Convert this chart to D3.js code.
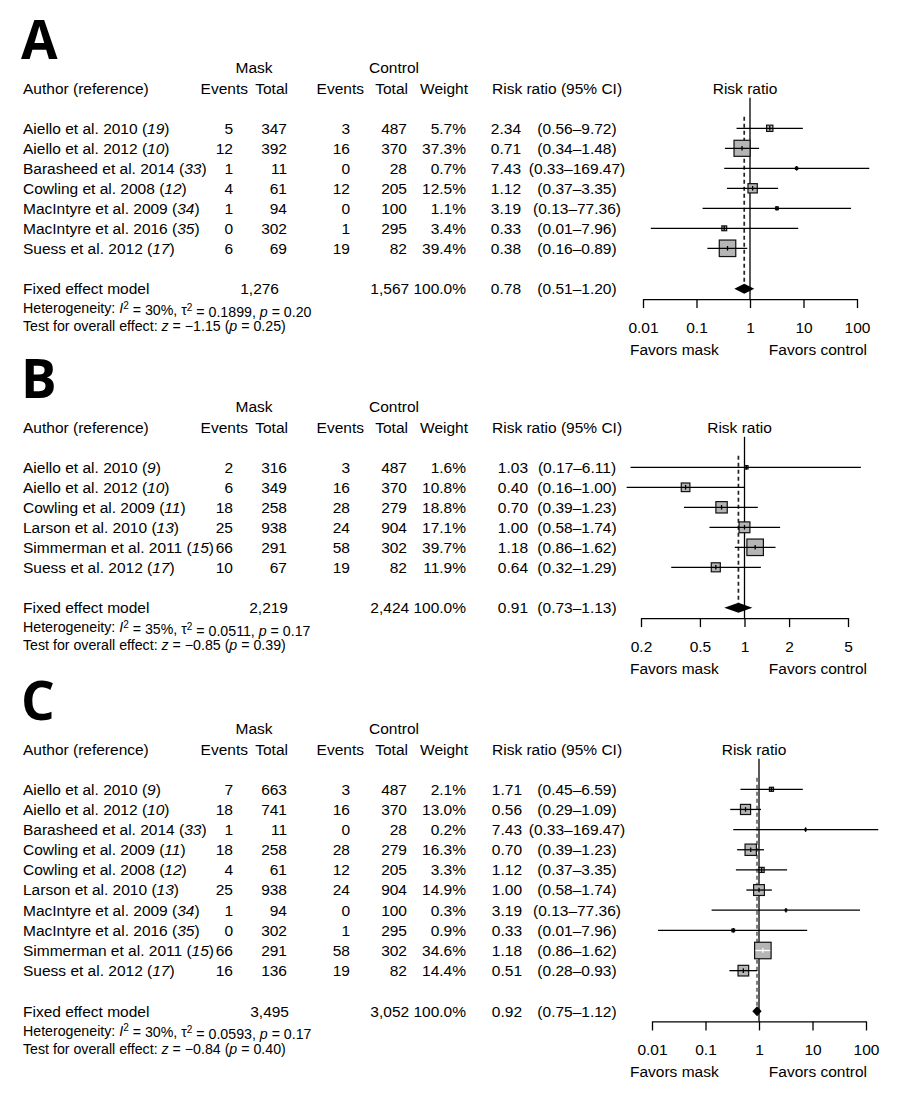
<!DOCTYPE html>
<html>
<head>
<meta charset="utf-8">
<script src="https://cdn.jsdelivr.net/npm/d3@7"></script>
<style>
  body { margin: 0; background: #fff; }
  svg text { font-family: "Liberation Sans", Arial, sans-serif; fill: #000; }
</style>
</head>
<body>
<div id="chart"></div>
<script>
// ---- Panel A data ----
const authorsA = ["Aiello et al. 2010", "Aiello et al. 2012", "Barasheed et al. 2014", "Cowling et al. 2008",
                  "MacIntyre et al. 2009", "MacIntyre et al. 2016", "Suess et al. 2012"];
const refsA = ["19", "10", "33", "12", "34", "35", "17"];
const maskEventsA = [5, 12, 1, 4, 1, 0, 6];
const maskTotalA = [347, 392, 11, 61, 94, 302, 69];
const ctrlEventsA = [3, 16, 0, 12, 0, 1, 19];
const ctrlTotalA = [487, 370, 28, 205, 100, 295, 82];
const weightA = [5.7, 37.3, 0.7, 12.5, 1.1, 3.4, 39.4];
const rrA = [2.34, 0.71, 7.43, 1.12, 3.19, 0.33, 0.38];
const loA = [0.56, 0.34, 0.33, 0.37, 0.13, 0.014, 0.16];
const hiA = [9.72, 1.48, 169.47, 3.35, 77.36, 7.96, 0.89];
const ticksA = [0.01, 0.1, 1, 10, 100];

// ---- Panel B data ----
const authorsB = ["Aiello et al. 2010", "Aiello et al. 2012", "Cowling et al. 2009", "Larson et al. 2010",
                  "Simmerman et al. 2011", "Suess et al. 2012"];
const refsB = ["9", "10", "11", "13", "15", "17"];
const maskEventsB = [2, 6, 18, 25, 66, 10];
const maskTotalB = [316, 349, 258, 938, 291, 67];
const ctrlEventsB = [3, 16, 28, 24, 58, 19];
const ctrlTotalB = [487, 370, 279, 904, 302, 82];
const weightB = [1.6, 10.8, 18.8, 17.1, 39.7, 11.9];
const rrB = [1.03, 0.40, 0.70, 1.00, 1.18, 0.64];
const loB = [0.17, 0.16, 0.39, 0.58, 0.86, 0.32];
const hiB = [6.11, 1.00, 1.23, 1.74, 1.62, 1.29];
const ticksB = [0.2, 0.5, 1, 2, 5];

// ---- Panel C data ----
const authorsC = ["Aiello et al. 2010", "Aiello et al. 2012", "Barasheed et al. 2014", "Cowling et al. 2009",
                  "Cowling et al. 2008", "Larson et al. 2010", "MacIntyre et al. 2009", "MacIntyre et al. 2016",
                  "Simmerman et al. 2011", "Suess et al. 2012"];
const refsC = ["9", "10", "33", "11", "12", "13", "34", "35", "15", "17"];
const maskEventsC = [7, 18, 1, 18, 4, 25, 1, 0, 66, 16];
const maskTotalC = [663, 741, 11, 258, 61, 938, 94, 302, 291, 136];
const ctrlEventsC = [3, 16, 0, 28, 12, 24, 0, 1, 58, 19];
const ctrlTotalC = [487, 370, 28, 279, 205, 904, 100, 295, 302, 82];
const weightC = [2.1, 13.0, 0.2, 16.3, 3.3, 14.9, 0.3, 0.9, 34.6, 14.4];
const rrC = [1.71, 0.56, 7.43, 0.70, 1.12, 1.00, 3.19, 0.33, 1.18, 0.51];
const loC = [0.45, 0.29, 0.33, 0.39, 0.37, 0.58, 0.13, 0.013, 0.86, 0.28];
const hiC = [6.59, 1.09, 169.47, 1.23, 3.35, 1.74, 77.36, 7.96, 1.62, 0.93];
const ticksC = [0.01, 0.1, 1, 10, 100];

// ---- Pooled (fixed effect) results, one entry per panel A, B, C ----
const panelLetters = ["A", "B", "C"];
const pooledMaskTotal = [1276, 2219, 3495];
const pooledCtrlTotal = [1567, 2424, 3052];
const pooledRR = [0.78, 0.91, 0.92];
const pooledLo = [0.51, 0.73, 0.75];
const pooledHi = [1.20, 1.13, 1.12];
const hetI2 = ["30%", "35%", "30%"];
const hetTau2 = ["0.1899", "0.0511", "0.0593"];
const hetP = ["0.20", "0.17", "0.17"];
const testZ = ["\u22121.15", "\u22120.85", "\u22120.84"];
const testP = ["0.25", "0.39", "0.40"];

// Layout (pixels)
const width = 900, height = 1096;
const FS = 15.5, FS_SMALL = 14.2;
const col = { author: 23, mEv: 233, mN: 287, cEv: 350, cN: 407, w: 466,
              hmEv: 248, hmN: 288, hcEv: 364, hcN: 408, hw: 468, mask: 254, ctrl: 394,
              rr: 492, ci: 577 };

const panels = [
  { authors: authorsA, refs: refsA, mEv: maskEventsA, mN: maskTotalA, cEv: ctrlEventsA, cN: ctrlTotalA,
    w: weightA, rr: rrA, lo: loA, hi: hiA, ticks: ticksA, domain: [0.01, 100], range: [643, 857],
    top: 128.3, step: 20, estRight: 521, pooledMaskX: 279, dashColor: "#222", dashWidth: 1.7 },
  { authors: authorsB, refs: refsB, mEv: maskEventsB, mN: maskTotalB, cEv: ctrlEventsB, cN: ctrlTotalB,
    w: weightB, rr: rrB, lo: loB, hi: hiB, ticks: ticksB, domain: [0.2, 5], range: [641, 848],
    top: 467.3, step: 20, estRight: 528, pooledMaskX: 288, dashColor: "#222", dashWidth: 1.7 },
  { authors: authorsC, refs: refsC, mEv: maskEventsC, mN: maskTotalC, cEv: ctrlEventsC, cN: ctrlTotalC,
    w: weightC, rr: rrC, lo: loC, hi: hiC, ticks: ticksC, domain: [0.01, 100], range: [652, 866],
    top: 789.3, step: 20.15, estRight: 522, pooledMaskX: 289, dashColor: "#808080", dashWidth: 2.2 }
];

const svg = d3.select("#chart").append("svg")
  .attr("width", width)
  .attr("height", height)
  .style("display", "block");

svg.append("rect").attr("width", width).attr("height", height).attr("fill", "#fff");

const fmt2 = d3.format(".2f");
const fmtInt = d3.format(",");

function txt(g, x, y, s, anchor, size) {
  return g.append("text")
    .attr("x", x).attr("y", y)
    .attr("dy", "0.35em")
    .attr("text-anchor", anchor || "start")
    .style("font-size", (size || FS) + "px")
    .text(s);
}

panels.forEach((p, pi) => {
  const g = svg.append("g");
  const rowY = i => p.top + i * p.step;
  const n = p.authors.length;
  const pooledY = rowY(n - 1) + 40.5;
  const axisY = pooledY + 10.3;
  const hdr2 = p.top - 40;
  const hdr1 = p.top - 60.5;

  // Panel letter
  g.append("text")
    .attr("x", 21).attr("y", p.top - 69.5)
    .style("font-family", "'Open Sans', 'DejaVu Sans', sans-serif")
    .style("font-weight", "bold")
    .style("font-size", "53px")
    .text(panelLetters[pi]);

  // Column headers
  txt(g, col.mask, hdr1, "Mask", "middle");
  txt(g, col.ctrl, hdr1, "Control", "middle");
  txt(g, col.author, hdr2, "Author (reference)");
  txt(g, col.hmEv, hdr2, "Events", "end");
  txt(g, col.hmN, hdr2, "Total", "end");
  txt(g, col.hcEv, hdr2, "Events", "end");
  txt(g, col.hcN, hdr2, "Total", "end");
  txt(g, col.hw, hdr2, "Weight", "end");
  txt(g, col.rr, hdr2, "Risk ratio (95% CI)");

  const x = d3.scaleLog().domain(p.domain).range(p.range);
  const mid = (p.range[0] + p.range[1]) / 2;
  txt(g, mid - 5, hdr2, "Risk ratio", "middle");

  // Study rows (text)
  p.authors.forEach((a, i) => {
    const y = rowY(i);
    const t = txt(g, col.author, y, null);
    t.append("tspan").text(a + " (");
    t.append("tspan").style("font-style", "italic").text(p.refs[i]);
    t.append("tspan").text(")");
    txt(g, col.mEv, y, p.mEv[i], "end");
    txt(g, col.mN, y, p.mN[i], "end");
    txt(g, col.cEv, y, p.cEv[i], "end");
    txt(g, col.cN, y, p.cN[i], "end");
    txt(g, col.w, y, p.w[i].toFixed(1) + "%", "end");
    txt(g, p.estRight, y, fmt2(p.rr[i]), "end");
    txt(g, col.ci, y, "(" + fmt2(p.lo[i]) + "\u2013" + fmt2(p.hi[i]) + ")", "middle");
  });

  // Pooled row text
  txt(g, col.author, pooledY, "Fixed effect model");
  txt(g, p.pooledMaskX, pooledY, fmtInt(pooledMaskTotal[pi]), "end");
  txt(g, col.w, pooledY, fmtInt(pooledCtrlTotal[pi]) + " 100.0%", "end");
  txt(g, p.estRight, pooledY, fmt2(pooledRR[pi]), "end");
  txt(g, col.ci, pooledY, "(" + fmt2(pooledLo[pi]) + "\u2013" + fmt2(pooledHi[pi]) + ")", "middle");

  // Heterogeneity and overall test
  const het = txt(g, col.author, pooledY + 19.5, null, "start", FS_SMALL);
  het.append("tspan").text("Heterogeneity: ");
  het.append("tspan").style("font-style", "italic").text("I");
  het.append("tspan").attr("dy", "-0.42em").style("font-size", "10px").text("2");
  het.append("tspan").attr("dy", "0.42em").text(" = " + hetI2[pi] + ", \u03c4");
  het.append("tspan").attr("dy", "-0.42em").style("font-size", "10px").text("2");
  het.append("tspan").attr("dy", "0.42em").text(" = " + hetTau2[pi] + ", ");
  het.append("tspan").style("font-style", "italic").text("p");
  het.append("tspan").text(" = " + hetP[pi]);

  const tst = txt(g, col.author, pooledY + 37.5, null, "start", FS_SMALL);
  tst.append("tspan").text("Test for overall effect: ");
  tst.append("tspan").style("font-style", "italic").text("z");
  tst.append("tspan").text(" = " + testZ[pi] + " (");
  tst.append("tspan").style("font-style", "italic").text("p");
  tst.append("tspan").text(" = " + testP[pi] + ")");

  // Reference line at 1 and pooled estimate line
  g.append("line")
    .attr("x1", x(1)).attr("x2", x(1))
    .attr("y1", p.top - 30.5).attr("y2", axisY)
    .attr("stroke", "#000").attr("stroke-width", 1.3);
  g.append("line")
    .attr("x1", x(pooledRR[pi])).attr("x2", x(pooledRR[pi]))
    .attr("y1", p.top - 11.5).attr("y2", pooledY)
    .attr("stroke", p.dashColor).attr("stroke-width", p.dashWidth)
    .attr("stroke-dasharray", "4,3");

  // Study marks
  const maxW = d3.max(p.w);
  p.rr.forEach((rr, i) => {
    const y = rowY(i);
    const side = 16.5 * Math.sqrt(p.w[i] / maxW);
    const cx = x(rr);
    const inside = x(p.lo[i]) >= cx - side / 2 && x(p.hi[i]) <= cx + side / 2;
    g.append("rect")
      .attr("x", cx - side / 2).attr("y", y - side / 2)
      .attr("width", side).attr("height", side)
      .attr("fill", "#b5b5b5").attr("stroke", "#111").attr("stroke-width", 1.2);
    const lineCol = inside ? "#fff" : "#000";
    g.append("line")
      .attr("x1", x(p.lo[i])).attr("x2", x(p.hi[i]))
      .attr("y1", y).attr("y2", y)
      .attr("stroke", lineCol).attr("stroke-width", 1.3);
    g.append("line")
      .attr("x1", cx).attr("x2", cx)
      .attr("y1", y - 2.3).attr("y2", y + 2.3)
      .attr("stroke", lineCol).attr("stroke-width", 1.3);
  });

  // Pooled diamond
  const dy = 5;
  g.append("path")
    .attr("d", `M${x(pooledLo[pi])},${pooledY}L${x(pooledRR[pi])},${pooledY - dy}` +
               `L${x(pooledHi[pi])},${pooledY}L${x(pooledRR[pi])},${pooledY + dy}Z`)
    .attr("fill", "#000");

  // Axis
  const axis = d3.axisBottom(x)
    .tickValues(p.ticks)
    .tickFormat(d3.format("~g"))
    .tickSize(9)
    .tickSizeOuter(0)
    .tickPadding(13.5);
  const ax = g.append("g")
    .attr("transform", `translate(0,${axisY})`)
    .call(axis);
  ax.select(".domain").attr("stroke", "#000").attr("stroke-width", 1.3);
  ax.selectAll(".tick line").attr("stroke", "#000").attr("stroke-width", 1.3);
  ax.selectAll(".tick text")
    .style("font-family", "'Liberation Sans', Arial, sans-serif")
    .style("font-size", FS + "px")
    .attr("fill", "#000");

  txt(g, 630, axisY + 50, "Favors mask", "start");
  txt(g, 867, axisY + 50, "Favors control", "end");
});
</script>
</body>
</html>
